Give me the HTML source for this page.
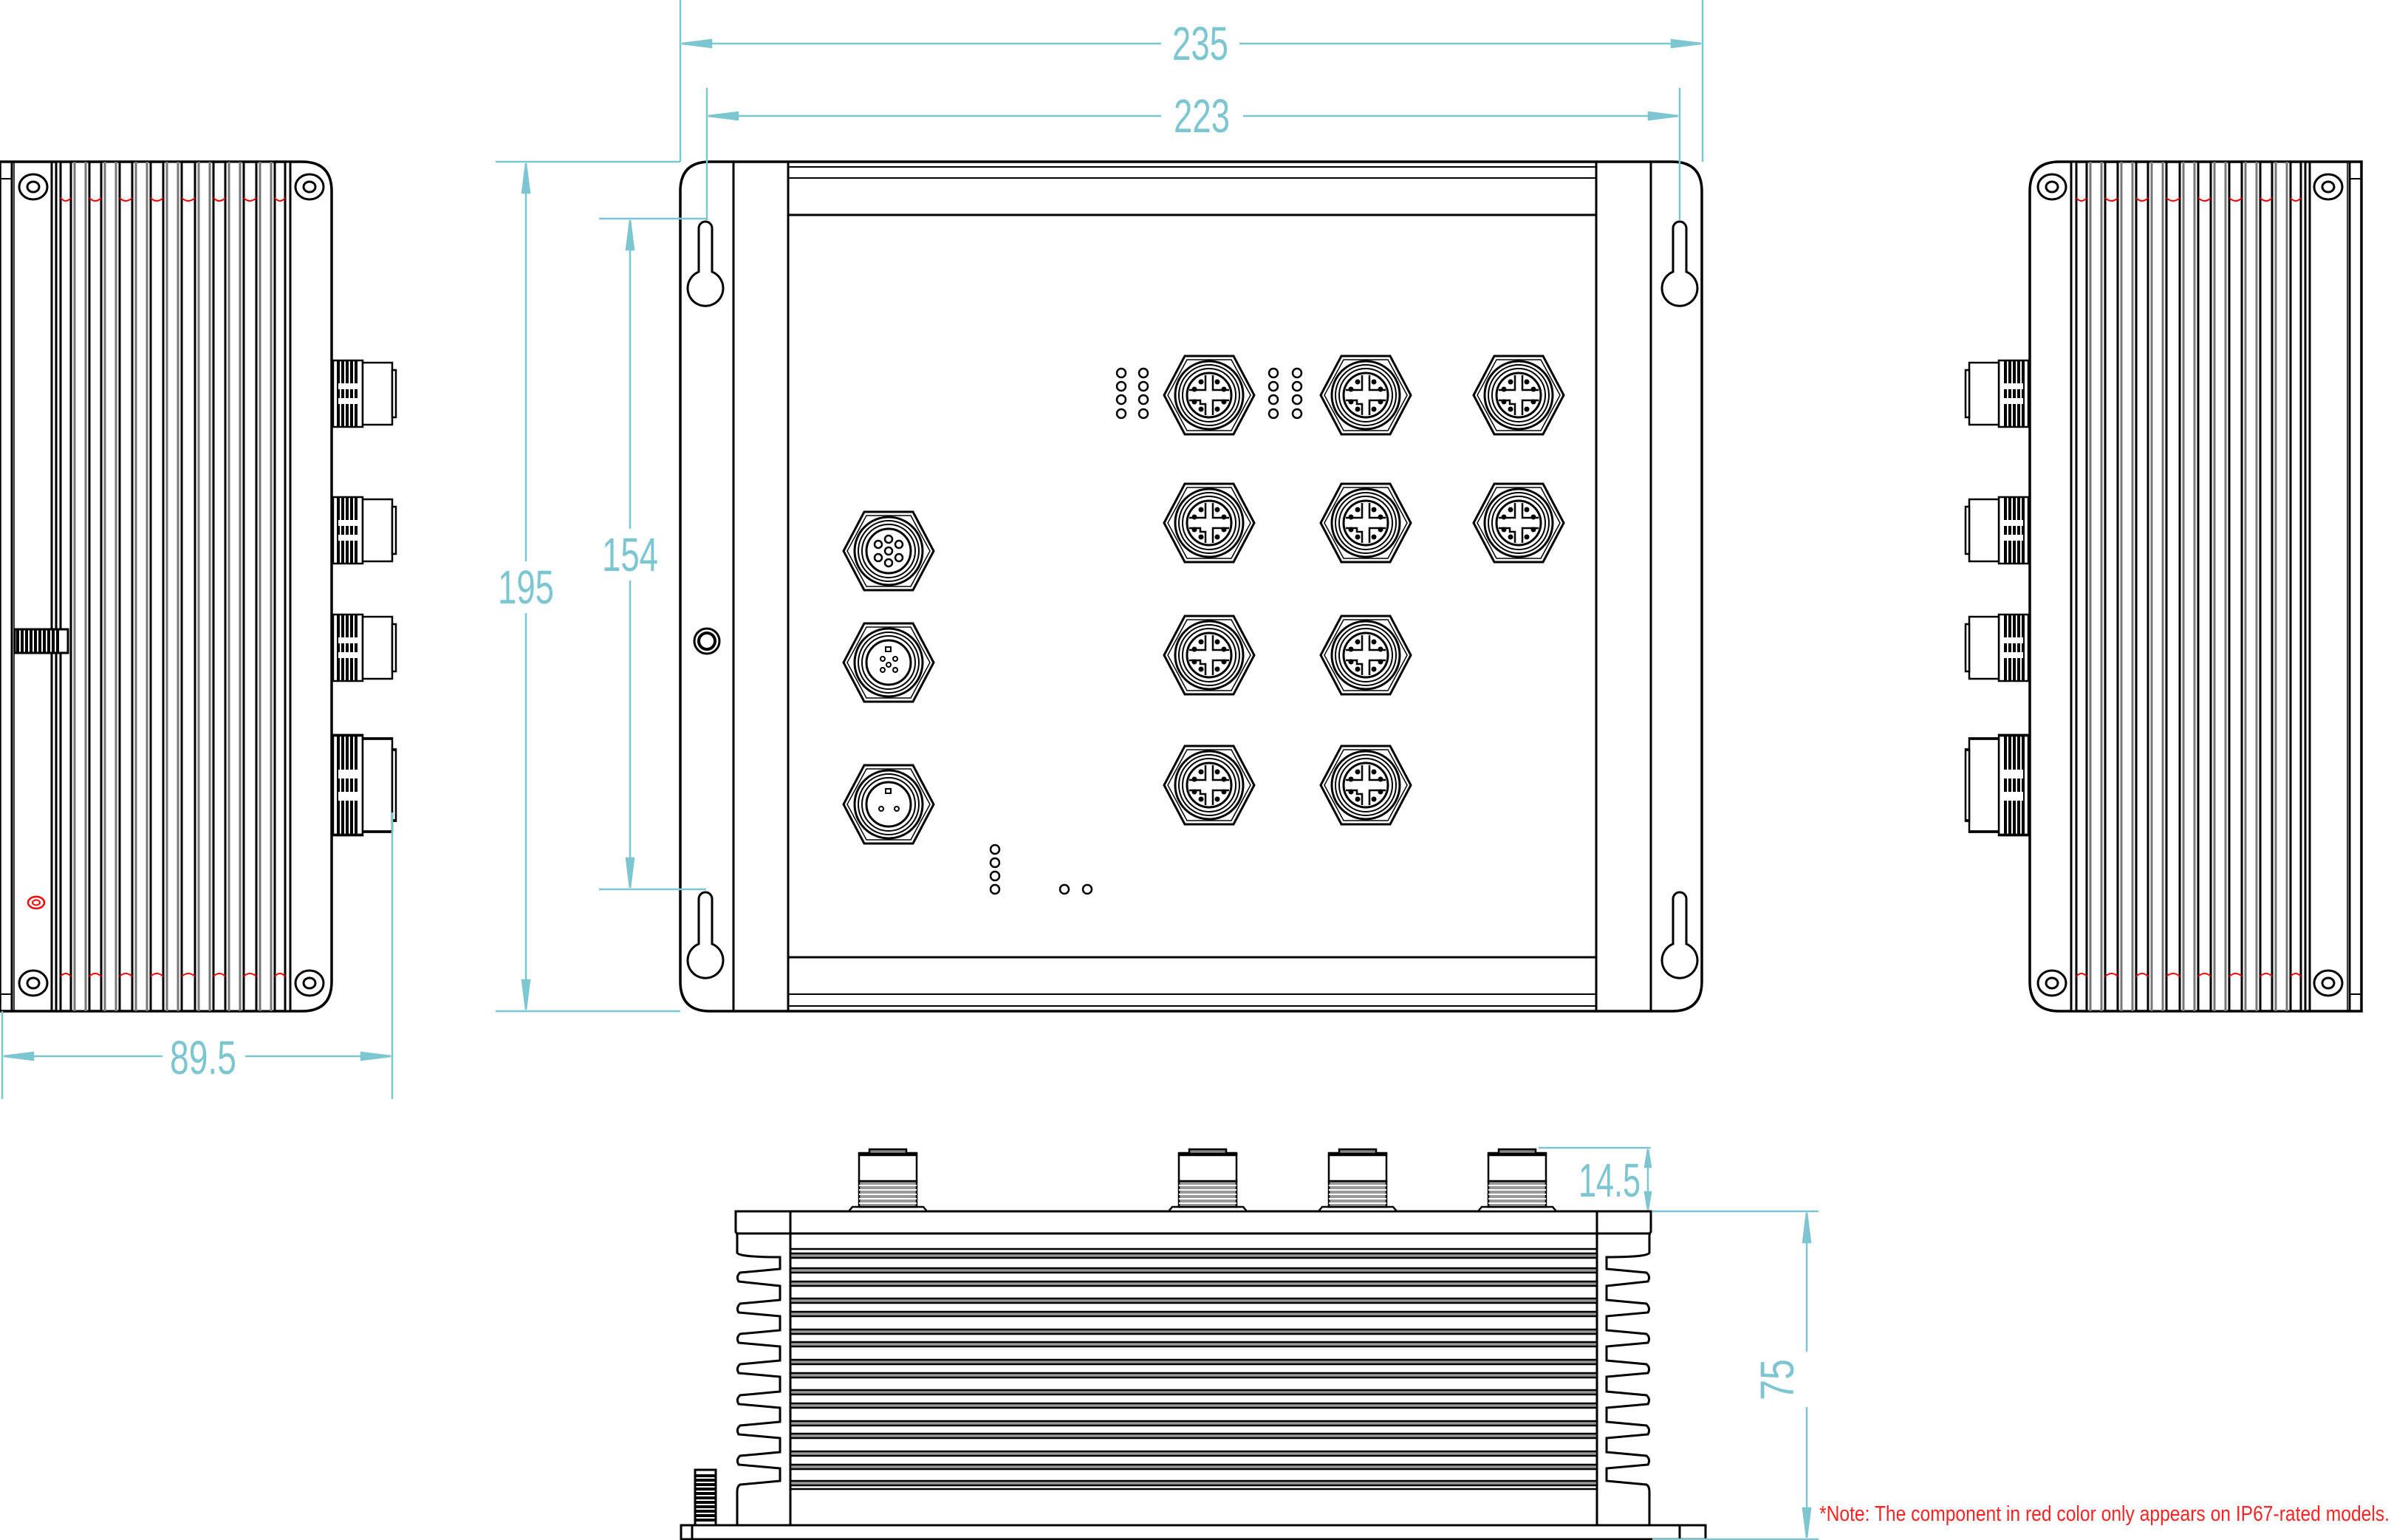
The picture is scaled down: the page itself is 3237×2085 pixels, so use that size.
<!DOCTYPE html>
<html><head><meta charset="utf-8"><style>
html,body{margin:0;padding:0;background:#fff;}
svg{display:block;}
.d{font-family:"Liberation Sans Narrow","Liberation Sans",sans-serif;fill:#7cc6d2;font-size:64px;}
</style></head><body>
<svg width="3237" height="2085" viewBox="0 0 3237 2085" xmlns="http://www.w3.org/2000/svg">
<defs>
  <g id="hex" fill="none" stroke="#000">
    <polygon points="-61,0 -33,-53 33,-53 61,0 33,53 -33,53" stroke-width="3"/>
    <polygon points="-56,0 -30,-48 30,-48 56,0 30,48 -30,48" stroke-width="1.5"/>
    <circle r="46" stroke-width="3"/>
    <circle r="41" stroke-width="2"/>
    <circle r="36" stroke-width="2"/>
    <circle r="30" stroke-width="3"/>
  </g>
  <g id="rj">
    <use href="#hex"/>
    <g fill="none" stroke="#000" stroke-width="2.5">
      <path d="M-5,-27 V-7 H-27 M5,-27 V-7 H27 M-27,7 H-12 V12 H-5 V27 M27,7 H5 V27"/>
    </g>
    <g fill="#000">
      <circle cx="-11" cy="-18" r="3.5"/><circle cx="11" cy="-18" r="3.5"/>
      <circle cx="-20" cy="-8" r="3.5"/><circle cx="20" cy="-8" r="3.5"/>
      <circle cx="-20" cy="9" r="3.5"/><circle cx="20" cy="9" r="3.5"/>
      <circle cx="-11" cy="19" r="3.5"/><circle cx="11" cy="19" r="3.5"/>
    </g>
  </g>
  <g id="led"><circle r="6" fill="none" stroke="#000" stroke-width="2.5"/></g>
  <!-- side connector (pointing right) -->
  <g id="sc" stroke="#000" fill="none" stroke-width="2.5">
    <rect x="451" y="-45" width="40" height="90" fill="#fff"/>
    <path d="M458,-45 V45 M464,-45 V45 M470,-45 V45 M476,-45 V45 M482,-45 V45" stroke-width="4"/>
    <path d="M458,-10 H486 M458,10 H486" stroke="#fff" stroke-width="8"/>
    <rect x="491" y="-42" width="40" height="84" fill="#fff"/>
    <rect x="531" y="-32" width="5" height="64" fill="#fff"/>
  </g>
  <g id="side">
    <path d="M0,219 H409 Q449,219 449,259 V1329 Q449,1369 409,1369 H0 Z" fill="#fff" stroke="#000" stroke-width="3.5"/>
    <g stroke="#000" stroke-width="3">
      <line x1="16" y1="219" x2="16" y2="1369"/>
      <line x1="19" y1="219" x2="19" y2="1369" stroke-width="1.5"/>
      <line x1="70" y1="219" x2="70" y2="1369"/>
      <line x1="393" y1="219" x2="393" y2="1369"/>
      <line x1="0" y1="242" x2="16" y2="242" stroke-width="2"/>
      <line x1="0" y1="1346" x2="16" y2="1346" stroke-width="2"/>
    </g>
    <g fill="#fff" stroke="#000" stroke-width="3">
      <rect x="76" y="219" width="6" height="1150"/>
      <rect x="96" y="219" width="25" height="1150"/>
      <rect x="137" y="219" width="25" height="1150"/>
      <rect x="179" y="219" width="25" height="1150"/>
      <rect x="221" y="219" width="25" height="1150"/>
      <rect x="264" y="219" width="25" height="1150"/>
      <rect x="305" y="219" width="25" height="1150"/>
      <rect x="347" y="219" width="25" height="1150"/>
      <rect x="386" y="219" width="7" height="1150"/>
    </g>
    <g stroke="#777" stroke-width="3">
      <path d="M101,219V1369M116,219V1369M142,219V1369M157,219V1369M184,219V1369M199,219V1369M226,219V1369M241,219V1369M269,219V1369M284,219V1369M310,219V1369M325,219V1369M352,219V1369M367,219V1369"/>
    </g>
    <g fill="none" stroke="#f00" stroke-width="2">
      <path d="M82,268 Q89,276 96,268 M121,268 Q129,276 137,268 M162,268 Q170,276 179,268 M204,268 Q212,276 221,268 M246,268 Q255,276 264,268 M289,268 Q297,276 305,268 M330,268 Q338,276 347,268 M372,268 Q379,276 386,268"/>
      <path d="M82,1322 Q89,1314 96,1322 M121,1322 Q129,1314 137,1322 M162,1322 Q170,1314 179,1322 M204,1322 Q212,1314 221,1322 M246,1322 Q255,1314 264,1322 M289,1322 Q297,1314 305,1322 M330,1322 Q338,1314 347,1322 M372,1322 Q379,1314 386,1322"/>
    </g>
    <g fill="none" stroke="#000" stroke-width="3">
      <ellipse cx="45" cy="253" rx="19" ry="17"/><ellipse cx="45" cy="253" rx="8" ry="7"/>
      <ellipse cx="45" cy="1331" rx="19" ry="17"/><ellipse cx="45" cy="1331" rx="8" ry="7"/>
      <ellipse cx="419" cy="253" rx="19" ry="17"/><ellipse cx="419" cy="253" rx="8" ry="7"/>
      <ellipse cx="419" cy="1331" rx="19" ry="17"/><ellipse cx="419" cy="1331" rx="8" ry="7"/>
    </g>
    <use href="#sc" y="533"/>
    <use href="#sc" y="718"/>
    <use href="#sc" y="877"/>
    <g transform="translate(0,1063) scale(1,1.5)"><use href="#sc"/></g>
  </g>
</defs>

<!-- LEFT SIDE VIEW -->
<use href="#side"/>
<g stroke="#000" stroke-width="3" fill="#fff">
  <rect x="20" y="852" width="72" height="32"/>
</g>
<path d="M24,852V884M30,852V884M36,852V884M42,852V884M48,852V884M54,852V884M60,852V884M66,852V884M72,852V884M78,852V884" stroke="#000" stroke-width="4"/>
<ellipse cx="49" cy="1222" rx="11" ry="8" fill="none" stroke="#f00" stroke-width="2.5"/>
<ellipse cx="49" cy="1222" rx="5" ry="3.5" fill="none" stroke="#f00" stroke-width="2"/>

<!-- RIGHT SIDE VIEW -->
<g transform="translate(3197,0) scale(-1,1)"><use href="#side"/></g>

<!-- 89.5 dim -->
<g stroke="#7cc6d2" stroke-width="2.5" fill="#7cc6d2">
  <line x1="3" y1="1369" x2="3" y2="1488"/>
  <line x1="531" y1="1100" x2="531" y2="1488"/>
  <line x1="5" y1="1430" x2="220" y2="1430"/>
  <line x1="332" y1="1430" x2="529" y2="1430"/>
  <polygon points="5,1430 45,1425 45,1435"/>
  <polygon points="529,1430 489,1425 489,1435"/>
</g>
<text class="d" x="275" y="1454" text-anchor="middle" textLength="90" lengthAdjust="spacingAndGlyphs">89.5</text>

<!-- FRONT VIEW -->
<path d="M961,219 H2264 Q2304,219 2304,259 V1329 Q2304,1369 2264,1369 H961 Q921,1369 921,1329 V259 Q921,219 961,219 Z" fill="#fff" stroke="#000" stroke-width="3.5"/>
<g stroke="#000" stroke-width="3" fill="none">
  <line x1="993" y1="219" x2="993" y2="1369"/>
  <line x1="1067" y1="219" x2="1067" y2="1369"/>
  <line x1="2161" y1="219" x2="2161" y2="1369"/>
  <line x1="2235" y1="219" x2="2235" y2="1369"/>
  <line x1="1067" y1="226" x2="2161" y2="226" stroke-width="2"/>
  <line x1="1067" y1="241" x2="2161" y2="241" stroke-width="2"/>
  <line x1="1067" y1="291" x2="2161" y2="291"/>
  <line x1="1067" y1="1296" x2="2161" y2="1296"/>
  <line x1="1067" y1="1346" x2="2161" y2="1346" stroke-width="2"/>
  <line x1="1067" y1="1362" x2="2161" y2="1362" stroke-width="2"/>
  <!-- keyholes -->
  <path d="M946,368 V309 A9,9 0 0 1 964,309 V368 A24,24 0 1 1 946,368 Z"/>
  <path d="M946,1278 V1217 A9,9 0 0 1 964,1217 V1278 A24,24 0 1 1 946,1278 Z"/>
  <path d="M2265,368 V309 A9,9 0 0 1 2283,309 V368 A24,24 0 1 1 2265,368 Z"/>
  <path d="M2265,1278 V1217 A9,9 0 0 1 2283,1217 V1278 A24,24 0 1 1 2265,1278 Z"/>
  <circle cx="957" cy="868" r="17" stroke-width="3"/>
  <circle cx="957" cy="868" r="11" stroke-width="4"/>
</g>
<use href="#rj" x="1637" y="535"/><use href="#rj" x="1849" y="535"/><use href="#rj" x="2056" y="535"/>
<use href="#rj" x="1637" y="708"/><use href="#rj" x="1849" y="708"/><use href="#rj" x="2056" y="708"/>
<use href="#rj" x="1637" y="887"/><use href="#rj" x="1849" y="887"/>
<use href="#rj" x="1637" y="1063"/><use href="#rj" x="1849" y="1063"/>
<use href="#hex" x="1203" y="746"/>
<g fill="none" stroke="#000" stroke-width="2.5">
  <circle cx="1203" cy="746" r="5"/><circle cx="1203" cy="730" r="5"/><circle cx="1217" cy="737" r="5"/><circle cx="1217" cy="755" r="5"/><circle cx="1203" cy="762" r="5"/><circle cx="1189" cy="755" r="5"/><circle cx="1189" cy="737" r="5"/>
</g>
<use href="#hex" x="1203" y="897"/>
<g fill="none" stroke="#000" stroke-width="2">
  <rect x="1199" y="876" width="7" height="6"/><circle cx="1195" cy="892" r="3"/><circle cx="1212" cy="892" r="3"/><circle cx="1195" cy="907" r="3"/><circle cx="1212" cy="907" r="3"/><circle cx="1203" cy="900" r="3"/>
</g>
<use href="#hex" x="1203" y="1089"/>
<g fill="none" stroke="#000" stroke-width="2">
  <rect x="1199" y="1068" width="7" height="6"/><circle cx="1193" cy="1095" r="3"/><circle cx="1214" cy="1095" r="3"/>
</g>
<use href="#led" x="1518" y="505"/><use href="#led" x="1518" y="523"/><use href="#led" x="1518" y="541"/><use href="#led" x="1518" y="560"/>
<use href="#led" x="1548" y="505"/><use href="#led" x="1548" y="523"/><use href="#led" x="1548" y="541"/><use href="#led" x="1548" y="560"/>
<use href="#led" x="1724" y="505"/><use href="#led" x="1724" y="523"/><use href="#led" x="1724" y="541"/><use href="#led" x="1724" y="560"/>
<use href="#led" x="1756" y="505"/><use href="#led" x="1756" y="523"/><use href="#led" x="1756" y="541"/><use href="#led" x="1756" y="560"/>
<use href="#led" x="1347" y="1150"/><use href="#led" x="1347" y="1168"/><use href="#led" x="1347" y="1186"/><use href="#led" x="1347" y="1204"/>
<use href="#led" x="1441" y="1204"/><use href="#led" x="1472" y="1204"/>

<!-- front dims -->
<g stroke="#7cc6d2" stroke-width="2.5" fill="#7cc6d2">
  <line x1="921" y1="0" x2="921" y2="219"/>
  <line x1="2305" y1="0" x2="2305" y2="219"/>
  <line x1="923" y1="59" x2="1572" y2="59"/><line x1="1678" y1="59" x2="2303" y2="59"/>
  <polygon points="923,59 963,54 963,64"/><polygon points="2303,59 2263,54 2263,64"/>
  <line x1="957" y1="119" x2="957" y2="298"/>
  <line x1="2274" y1="119" x2="2274" y2="298"/>
  <line x1="959" y1="157" x2="1572" y2="157"/><line x1="1683" y1="157" x2="2272" y2="157"/>
  <polygon points="959,157 999,152 999,162"/><polygon points="2272,157 2232,152 2232,162"/>
  <line x1="671" y1="219" x2="921" y2="219"/>
  <line x1="671" y1="1369" x2="921" y2="1369"/>
  <line x1="712" y1="221" x2="712" y2="760"/><line x1="712" y1="830" x2="712" y2="1367"/>
  <polygon points="712,221 707,261 717,261"/><polygon points="712,1367 707,1327 717,1327"/>
  <line x1="811" y1="296" x2="956" y2="296"/>
  <line x1="811" y1="1204" x2="956" y2="1204"/>
  <line x1="853" y1="298" x2="853" y2="716"/><line x1="853" y1="786" x2="853" y2="1202"/>
  <polygon points="853,298 848,338 858,338"/><polygon points="853,1202 848,1162 858,1162"/>
</g>
<text class="d" x="1625" y="81" text-anchor="middle" textLength="76" lengthAdjust="spacingAndGlyphs">235</text>
<text class="d" x="1627" y="179" text-anchor="middle" textLength="76" lengthAdjust="spacingAndGlyphs">223</text>
<text class="d" x="712" y="817" text-anchor="middle" textLength="76" lengthAdjust="spacingAndGlyphs">195</text>
<text class="d" x="853" y="773" text-anchor="middle" textLength="76" lengthAdjust="spacingAndGlyphs">154</text>

<!-- BOTTOM VIEW -->
<g stroke="#000" stroke-width="3" fill="#fff">
  <rect x="922" y="2065" width="1387" height="19"/>
  <line x1="937" y1="2065" x2="937" y2="2084"/><line x1="2274" y1="2065" x2="2274" y2="2084"/>
  <path id="lfin" d="M996,1640 V1668 L998,1670 V1696 Q1000,1702 1056,1702 V1718 L1002,1723 Q996,1728 1000,1735 L1056,1741 V1760 L1002,1765 Q996,1771 1000,1777 L1056,1782 V1801 L1002,1806 Q996,1811 1000,1818 L1056,1823 V1842 L1002,1847 Q996,1852 1000,1859 L1056,1864 V1884 L1002,1889 Q996,1894 1000,1901 L1056,1906 V1925 L1002,1930 Q996,1935 1000,1942 L1056,1947 V1966 L1002,1971 Q996,1976 1000,1983 L1056,1988 V2005 L1002,2010 Q998,2012 998,2020 V2065 H1070 V1640 Z"/>
  <g transform="translate(3231,0) scale(-1,1)"><use href="#lfin"/></g>
  <rect x="1070" y="1640" width="1092" height="425"/>
  <line x1="996" y1="1670" x2="2235" y2="1670"/>
</g>
<g stroke="#000" stroke-width="2.5" fill="#999">
  <line x1="1070" y1="1691" x2="2162" y2="1691"/>
  <rect x="1070" y="1697" width="1092" height="6"/><rect x="1070" y="1717" width="1092" height="6"/>
  <rect x="1070" y="1735" width="1092" height="6"/><rect x="1070" y="1758" width="1092" height="6"/>
  <rect x="1070" y="1776" width="1092" height="6"/><rect x="1070" y="1800" width="1092" height="6"/>
  <rect x="1070" y="1817" width="1092" height="6"/><rect x="1070" y="1841" width="1092" height="6"/>
  <rect x="1070" y="1859" width="1092" height="6"/><rect x="1070" y="1882" width="1092" height="6"/>
  <rect x="1070" y="1900" width="1092" height="6"/><rect x="1070" y="1924" width="1092" height="6"/>
  <rect x="1070" y="1941" width="1092" height="6"/><rect x="1070" y="1965" width="1092" height="6"/>
  <rect x="1070" y="1983" width="1092" height="6"/><rect x="1070" y="2005" width="1092" height="6"/>
  <line x1="1070" y1="2016" x2="2162" y2="2016"/>
</g>
<defs>
  <g id="tc" stroke="#000" stroke-width="2.5" fill="#fff">
    <path d="M-53,1640 L-48,1634 H48 L53,1640 Z"/>
    <rect x="-39" y="1599" width="78" height="35" fill="#999"/>
    <path d="M-39,1605H39M-39,1611H39M-39,1617H39M-39,1623H39M-39,1629H39" stroke="#fff" stroke-width="2"/>
    <rect x="-39" y="1563" width="78" height="36"/>
    <rect x="-39" y="1561" width="78" height="3" fill="#000"/>
    <rect x="-25" y="1556" width="50" height="6" fill="#888"/>
  </g>
</defs>
<use href="#tc" x="1202"/><use href="#tc" x="1635"/><use href="#tc" x="1838"/><use href="#tc" x="2054"/>
<!-- screw -->
<rect x="941" y="1990" width="28" height="75" fill="#fff" stroke="#000" stroke-width="3"/>
<path d="M941,1998H969M941,2004H969M941,2010H969M941,2016H969M941,2022H969M941,2028H969M941,2034H969M941,2040H969M941,2046H969M941,2052H969M941,2058H969" stroke="#000" stroke-width="4"/>

<!-- bottom dims -->
<g stroke="#7cc6d2" stroke-width="2.5" fill="#7cc6d2">
  <line x1="2083" y1="1554" x2="2235" y2="1554"/>
  <line x1="2231" y1="1556" x2="2231" y2="1638"/>
  <polygon points="2231,1556 2227,1580 2235,1580"/><polygon points="2231,1638 2227,1614 2235,1614"/>
  <line x1="2237" y1="1640" x2="2462" y2="1640"/>
  <line x1="2237" y1="2084" x2="2462" y2="2084"/>
  <line x1="2446" y1="1642" x2="2446" y2="1830"/><line x1="2446" y1="1905" x2="2446" y2="2082"/>
  <polygon points="2446,1642 2441,1682 2451,1682"/><polygon points="2446,2082 2441,2042 2451,2042"/>
</g>
<text class="d" x="2179" y="1620" text-anchor="middle" textLength="84" lengthAdjust="spacingAndGlyphs">14.5</text>
<text class="d" transform="translate(2428,1868) rotate(-90)" x="0" y="0" text-anchor="middle" textLength="56" lengthAdjust="spacingAndGlyphs">75</text>
<text x="2463" y="2059" font-family="Liberation Sans Narrow, Liberation Sans, sans-serif" font-size="29" fill="#f22" textLength="772" lengthAdjust="spacingAndGlyphs">*Note: The component in red color only appears on IP67-rated models.</text>
</svg>
</body></html>
